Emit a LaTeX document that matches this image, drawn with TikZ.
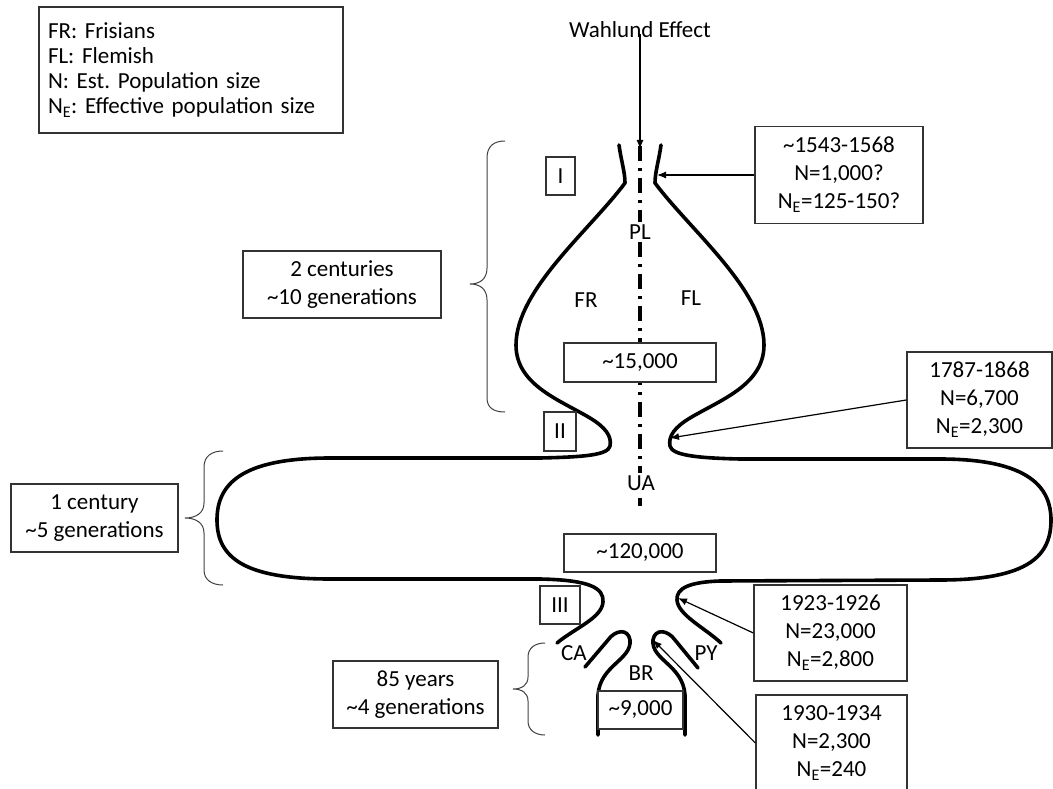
\documentclass[tikz,border=0pt]{standalone}
\usepackage{fontspec}
\setmainfont{Carlito}
\usetikzlibrary{arrows.meta}
\frenchspacing
\begin{document}
\begin{tikzpicture}[x=1pt,y=-1pt,
  txt/.style={font=\fontsize{23}{28}\selectfont, align=center, inner sep=0pt},
  tbox/.style={txt, draw=black!80, line width=1.3pt, fill=white},
  curve/.style={line width=3.6pt, line cap=round, line join=round},
  brace/.style={line width=1pt, draw=black!75},
  arr/.style={line width=1.2pt, -{Latex[length=9pt,width=7pt]}},
  axis/.style={line width=4.2pt, dash pattern=on 15pt off 7pt on 3pt off 7pt}
]
\useasboundingbox (0,0) rectangle (1053,789);

% central dash-dot axis
\coordinate (axtop) at (640,146);
\coordinate (axbot) at (640,506);
\draw[axis] (axtop) -- (axbot);

% left outer curve
\draw[curve] (619,145) .. controls (621,160) and (625,172) .. (625,183)
  .. controls (590,230) and (516,290) .. (516,345)
  .. controls (516,385) and (560,400) .. (590,418)
  .. controls (605,427) and (612,436) .. (610,446)
  .. controls (608,455) and (585,457) .. (540,458)
  -- (330,458)
  .. controls (240,458) and (217,485) .. (217,520)
  .. controls (217,558) and (245,579) .. (330,579)
  -- (540,579)
  .. controls (590,580) and (604,588) .. (603,602)
  .. controls (602,618) and (575,628) .. (557,643);

% right outer curve
\draw[curve] (661,145) .. controls (659,160) and (655,172) .. (655,183)
  .. controls (690,230) and (764,290) .. (764,345)
  .. controls (764,385) and (720,400) .. (690,418)
  .. controls (675,427) and (668,436) .. (670,446)
  .. controls (672,455) and (695,458) .. (740,459)
  -- (940,459)
  .. controls (1030,459) and (1051,488) .. (1051,520)
  .. controls (1051,555) and (1030,580) .. (940,580)
  -- (720,581)
  .. controls (690,582) and (676,588) .. (677,600)
  .. controls (678,615) and (705,628) .. (721,643);

% BR inner pieces
\draw[curve] (585,667) -- (608,640) .. controls (615,630) and (628,628) .. (630,640)
  .. controls (632,660) and (600,665) .. (598,695) -- (598,735);
\draw[curve] (698,668) -- (675,640) .. controls (668,630) and (655,628) .. (653,640)
  .. controls (651,660) and (683,665) .. (685,695) -- (685,735);

% braces
\draw[brace] (505,141) .. controls (494,141) and (487,146) .. (487,158) -- (487,268)
  .. controls (487,279) and (480,284) .. (470,284)
  .. controls (480,284) and (487,289) .. (487,300) -- (487,398)
  .. controls (487,408) and (494,412) .. (505,412);
\draw[brace] (223,451) .. controls (212,451) and (204,456) .. (204,467) -- (204,503)
  .. controls (204,513) and (196,518) .. (185,518)
  .. controls (196,518) and (204,523) .. (204,533) -- (204,570)
  .. controls (204,580) and (212,585) .. (223,585);
\draw[brace] (545,643) .. controls (535,643) and (528,648) .. (528,657) -- (528,677)
  .. controls (528,685) and (522,689) .. (513,689)
  .. controls (522,689) and (528,693) .. (528,701) -- (528,721)
  .. controls (528,730) and (535,735) .. (545,735);

% labels
\node[txt] (wahlund) at (640,30) {Wahlund Effect};
\node[txt, fill=white, inner sep=3pt] (pl) at (640,232) {PL};
\node[txt, fill=white, inner sep=3pt] (ua) at (641,483) {UA};
\node[txt] (fr) at (586,300) {FR};
\node[txt] (fl) at (691,298) {FL};
\node[txt] (br) at (641,673) {BR};
\node[txt] (ca) at (574,653) {CA};
\node[txt] (py) at (706,653) {PY};

% boxes
\node[tbox, font=\fontsize{23}{25}\selectfont, align=left, text width=286pt,
      minimum width=304pt, minimum height=126pt, inner xsep=9pt] (legend) at (191,70)
  {FR: Frisians\\FL: Flemish\\N: Est. Population size\\N\textsubscript{E}: Effective population size};
\node[tbox, minimum width=29pt, minimum height=38pt] (r1) at (560.5,176) {I};
\node[tbox, minimum width=32pt, minimum height=39pt] (r2) at (560,431.5) {II};
\node[tbox, minimum width=40pt, minimum height=38pt] (r3) at (560,605) {III};
\node[tbox, minimum width=168pt, minimum height=97pt] (b1543) at (839,175)
  {\textasciitilde1543-1568\\N=1,000?\\N\textsubscript{E}=125-150?};
\node[tbox, minimum width=198pt, minimum height=67pt] (b2c) at (342,284.5)
  {2 centuries\\\textasciitilde10 generations};
\node[tbox, minimum width=152pt, minimum height=39pt] (n15) at (640,362.5) {\textasciitilde15,000};
\node[tbox, minimum width=145pt, minimum height=96pt] (b1787) at (979.5,400)
  {1787-1868\\N=6,700\\N\textsubscript{E}=2,300};
\node[tbox, minimum width=167pt, minimum height=68pt] (b1c) at (94.5,518)
  {1 century\\\textasciitilde5 generations};
\node[tbox, minimum width=152pt, minimum height=38pt] (n120) at (640,553) {\textasciitilde120,000};
\node[tbox, minimum width=153pt, minimum height=96pt] (b1923) at (830.5,633)
  {1923-1926\\N=23,000\\N\textsubscript{E}=2,800};
\node[tbox, minimum width=165pt, minimum height=67pt] (b85) at (415.5,694.5)
  {85 years\\\textasciitilde4 generations};
\node[tbox, minimum width=85pt, minimum height=38pt] (n9) at (640.5,710) {\textasciitilde9,000};
\node[tbox, minimum width=151pt, minimum height=96pt] (b1930) at (831.5,743)
  {1930-1934\\N=2,300\\N\textsubscript{E}=240};

% arrows
\coordinate (t0) at (640,149);
\coordinate (t1) at (657,175);
\coordinate (t2) at (670,438);
\coordinate (t3) at (678,598);
\coordinate (t4) at (653,640);
\draw[arr] (wahlund.south) ++(0,-4) -- (t0);
\draw[arr] (b1543.west) -- (t1);
\draw[arr] (b1787.west) -- (t2);
\draw[arr] (b1923.west) -- (t3);
\draw[arr] (b1930.west) -- (t4);
\end{tikzpicture}
\end{document}
